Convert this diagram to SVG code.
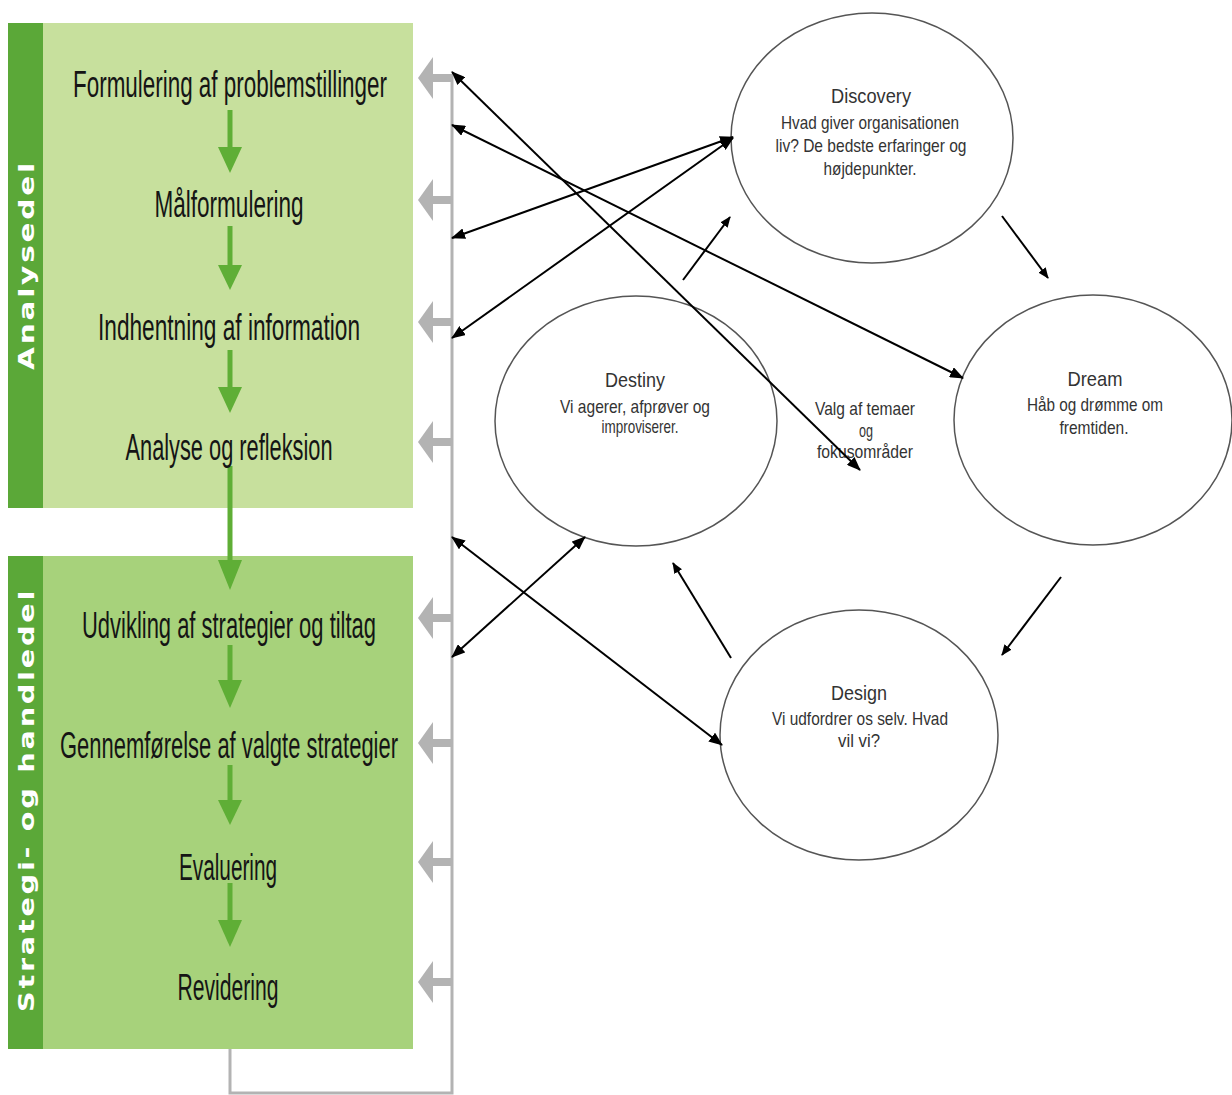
<svg xmlns="http://www.w3.org/2000/svg" width="1232" height="1095" viewBox="0 0 1232 1095">
<style>
.step{font-family:"Liberation Sans",Arial,sans-serif;font-size:36px;fill:#151515;text-anchor:middle}
.side{font-family:"DejaVu Sans",Verdana,sans-serif;font-weight:bold;font-size:21px;fill:#ffffff;text-anchor:middle;letter-spacing:2px}
.ell{fill:#ffffff;stroke:#555555;stroke-width:1.5}
.ttl{font-family:"Liberation Sans",Arial,sans-serif;font-size:21px;fill:#333333;text-anchor:middle}
.body{font-family:"Liberation Sans",Arial,sans-serif;font-size:18.5px;fill:#333333;text-anchor:middle}
.gline{stroke:#5fae36;stroke-width:5;fill:none}
.ghead{fill:#5fae36}
.gray{stroke:#b3b3b3;stroke-width:3;fill:none}
.grayfill{fill:#b3b3b3}
.blk{stroke:#000000;stroke-width:2;fill:none}
</style>
<defs>
<marker id="ah" viewBox="0 0 14 11" refX="13" refY="5.5" markerWidth="14" markerHeight="11" markerUnits="userSpaceOnUse" orient="auto-start-reverse">
<path d="M0,0 L14,5.5 L0,11 z" fill="#000000"/>
</marker>
<marker id="sh" viewBox="0 0 11 9" refX="10" refY="4.5" markerWidth="11" markerHeight="9" markerUnits="userSpaceOnUse" orient="auto">
<path d="M0,0 L11,4.5 L0,9 z" fill="#000000"/>
</marker>
<g id="grayarrow">
<polygon points="-34,0 -19,-21 -19,21" class="grayfill"/>
<rect x="-20" y="-4" width="20" height="8" class="grayfill"/>
</g>
</defs>
<rect width="1232" height="1095" fill="#ffffff"/>

<g id="panel-analyse">
<rect x="8" y="23" width="405" height="485" fill="#c7e09d"/>
<rect x="8" y="23" width="35" height="485" fill="#5ba838"/>
<text class="side" transform="translate(34,265) rotate(-90)" textLength="210" lengthAdjust="spacingAndGlyphs">Analysedel</text>
</g>
<g id="panel-strategi">
<rect x="8" y="556" width="405" height="493" fill="#a7d27b"/>
<rect x="8" y="556" width="35" height="493" fill="#5ba838"/>
<text class="side" transform="translate(34,800) rotate(-90)" textLength="424" lengthAdjust="spacingAndGlyphs">Strategi- og handledel</text>
</g>

<g id="green-arrows">
<line x1="230" y1="110" x2="230" y2="150" class="gline"/><polygon points="218,147 242,147 230,173" class="ghead"/>
<line x1="230" y1="226" x2="230" y2="268" class="gline"/><polygon points="218,265 242,265 230,290" class="ghead"/>
<line x1="230" y1="350" x2="230" y2="390" class="gline"/><polygon points="218,387 242,387 230,413" class="ghead"/>
<line x1="230" y1="466" x2="230" y2="563" class="gline" stroke-width="4"/><polygon points="218,560 242,560 230,590" class="ghead"/>
<line x1="230" y1="645" x2="230" y2="683" class="gline"/><polygon points="218,680 242,680 230,708" class="ghead"/>
<line x1="230" y1="765" x2="230" y2="803" class="gline"/><polygon points="218,800 242,800 230,825" class="ghead"/>
<line x1="230" y1="883" x2="230" y2="923" class="gline"/><polygon points="218,920 242,920 230,947" class="ghead"/>
</g>

<g id="step1"><text class="step" x="230" y="97" textLength="314" lengthAdjust="spacingAndGlyphs">Formulering af problemstillinger</text></g>
<g id="step2"><text class="step" x="229" y="217" textLength="149" lengthAdjust="spacingAndGlyphs">Målformulering</text></g>
<g id="step3"><text class="step" x="229" y="340" textLength="262" lengthAdjust="spacingAndGlyphs">Indhentning af information</text></g>
<g id="step4"><text class="step" x="229" y="460" textLength="207" lengthAdjust="spacingAndGlyphs">Analyse og refleksion</text></g>
<g id="step5"><text class="step" x="229" y="638" textLength="294" lengthAdjust="spacingAndGlyphs">Udvikling af strategier og tiltag</text></g>
<g id="step6"><text class="step" x="229" y="758" textLength="338" lengthAdjust="spacingAndGlyphs">Gennemførelse af valgte strategier</text></g>
<g id="step7"><text class="step" x="228" y="880" textLength="98" lengthAdjust="spacingAndGlyphs">Evaluering</text></g>
<g id="step8"><text class="step" x="228" y="1000" textLength="101" lengthAdjust="spacingAndGlyphs">Revidering</text></g>

<g id="feedback">
<polyline points="230,1049 230,1093 452,1093 452,74" class="gray"/>
<use href="#grayarrow" x="452" y="78"/>
<use href="#grayarrow" x="452" y="200"/>
<use href="#grayarrow" x="452" y="322"/>
<use href="#grayarrow" x="452" y="442"/>
<use href="#grayarrow" x="452" y="618"/>
<use href="#grayarrow" x="452" y="743"/>
<use href="#grayarrow" x="452" y="862"/>
<use href="#grayarrow" x="452" y="982"/>
</g>

<g id="discovery">
<ellipse class="ell" cx="872" cy="138" rx="141" ry="125"/>
<text class="ttl" x="871" y="103" textLength="80" lengthAdjust="spacingAndGlyphs">Discovery</text>
<text class="body" x="870" y="129" textLength="178" lengthAdjust="spacingAndGlyphs">Hvad giver organisationen</text>
<text class="body" x="871" y="152" textLength="191" lengthAdjust="spacingAndGlyphs">liv? De bedste erfaringer og</text>
<text class="body" x="870" y="175" textLength="93" lengthAdjust="spacingAndGlyphs">højdepunkter.</text>
</g>
<g id="dream">
<ellipse class="ell" cx="1093" cy="420" rx="139" ry="125"/>
<text class="ttl" x="1095" y="386" textLength="55" lengthAdjust="spacingAndGlyphs">Dream</text>
<text class="body" x="1095" y="411" textLength="136" lengthAdjust="spacingAndGlyphs">Håb og drømme om</text>
<text class="body" x="1094" y="434" textLength="69" lengthAdjust="spacingAndGlyphs">fremtiden.</text>
</g>
<g id="destiny">
<ellipse class="ell" cx="636" cy="421" rx="141" ry="125"/>
<text class="ttl" x="635" y="387" textLength="60" lengthAdjust="spacingAndGlyphs">Destiny</text>
<text class="body" x="635" y="413" textLength="150" lengthAdjust="spacingAndGlyphs">Vi agerer, afprøver og</text>
<text class="body" x="640" y="433" textLength="77" lengthAdjust="spacingAndGlyphs">improviserer.</text>
</g>
<g id="design">
<ellipse class="ell" cx="859" cy="735" rx="139" ry="125"/>
<text class="ttl" x="859" y="700" textLength="56" lengthAdjust="spacingAndGlyphs">Design</text>
<text class="body" x="860" y="725" textLength="176" lengthAdjust="spacingAndGlyphs">Vi udfordrer os selv. Hvad</text>
<text class="body" x="859" y="747" textLength="42" lengthAdjust="spacingAndGlyphs">vil vi?</text>
</g>
<g id="center-label">
<text class="body" x="865" y="415" textLength="100" lengthAdjust="spacingAndGlyphs">Valg af temaer</text>
<text class="body" x="866" y="437" textLength="14" lengthAdjust="spacingAndGlyphs">og</text>
<text class="body" x="865" y="458" textLength="96" lengthAdjust="spacingAndGlyphs">fokusområder</text>
</g>

<g id="connectors">
<line class="blk" x1="452" y1="72" x2="860" y2="470" marker-start="url(#ah)" marker-end="url(#ah)"/>
<line class="blk" x1="452" y1="125" x2="963" y2="378" marker-start="url(#ah)" marker-end="url(#ah)"/>
<line class="blk" x1="452" y1="238" x2="733" y2="137" marker-start="url(#ah)" marker-end="url(#ah)"/>
<line class="blk" x1="452" y1="338" x2="733" y2="138" marker-start="url(#ah)" marker-end="url(#ah)"/>
<line class="blk" x1="452" y1="537" x2="722" y2="745" marker-start="url(#ah)" marker-end="url(#ah)"/>
<line class="blk" x1="452" y1="657" x2="585" y2="537" marker-start="url(#ah)" marker-end="url(#ah)"/>
<line class="blk" x1="683" y1="280" x2="730" y2="217" marker-end="url(#sh)"/>
<line class="blk" x1="1002" y1="216" x2="1048" y2="278" marker-end="url(#sh)"/>
<line class="blk" x1="1061" y1="577" x2="1002" y2="655" marker-end="url(#sh)"/>
<line class="blk" x1="731" y1="658" x2="673" y2="563" marker-end="url(#sh)"/>
</g>
</svg>
